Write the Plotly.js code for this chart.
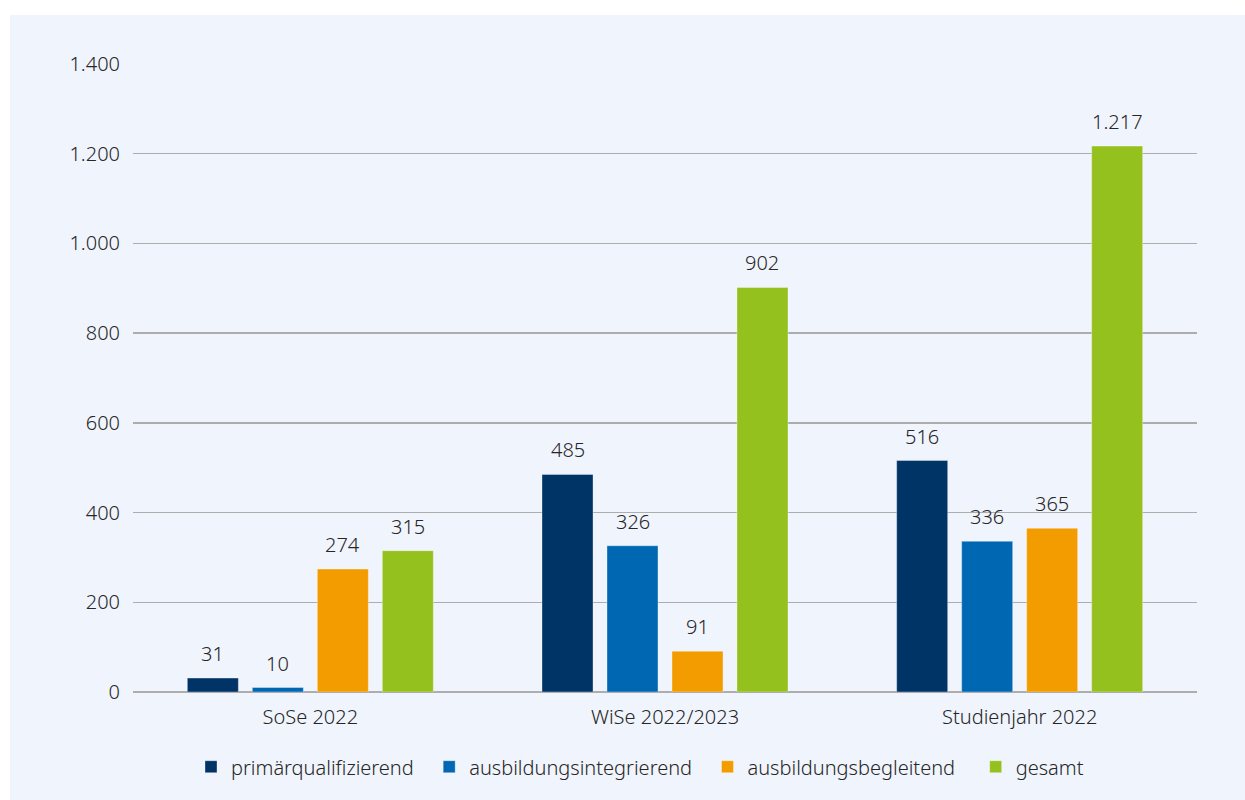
<!DOCTYPE html>
<html>
<head>
<meta charset="utf-8">
<script src="https://cdn.plot.ly/plotly-3.0.1.min.js"></script>
<style>
html,body{margin:0;padding:0;background:#ffffff;}
#chart{width:1245px;height:800px;}
</style>
</head>
<body>
<div id="chart"></div>
<script>
const categories = ["SoSe 2022", "WiSe 2022/2023", "Studienjahr 2022"];
const seriesNames = ["primärqualifizierend", "ausbildungsintegrierend", "ausbildungsbegleitend", "gesamt"];
const primaerqualifizierend = [31, 485, 516];
const ausbildungsintegrierend = [10, 326, 336];
const ausbildungsbegleitend = [274, 91, 365];
const gesamt = [315, 902, 1217];
const seriesValues = [primaerqualifizierend, ausbildungsintegrierend, ausbildungsbegleitend, gesamt];
const seriesColors = ["#003366", "#0068b3", "#f39c00", "#95c11f"];
const yTicks = [0, 200, 400, 600, 800, 1000, 1200, 1400];
const legendPad = [2, 2, 3, 0];

const FONT = "Noto Sans, Open Sans, sans-serif";
const TEXTCOL = "#262626";
const WEIGHT = 350;
const margin = {l: 133, r: 48, t: 64, b: 108};
const W = 1245, H = 800;
const plotW = W - margin.l - margin.r;
const bargap = 0.267;
const slotPx = plotW / categories.length * (1 - bargap) / seriesValues.length;

const fmt = v => v.toLocaleString("de-DE");

const traces = seriesValues.map((vals, i) => ({
  type: "bar",
  name: seriesNames[i] + "\u00a0".repeat(legendPad[i]),
  x: categories,
  y: vals,
  marker: {color: seriesColors[i], line: {color: "rgba(255,255,255,0.35)", width: 1}},
  hoverinfo: "skip"
}));

const annotations = [];
seriesValues.forEach((vals, i) => {
  vals.forEach((v, j) => {
    annotations.push({
      xref: "x", yref: "y",
      x: categories[j], y: v,
      text: fmt(v),
      showarrow: false,
      xanchor: "center", yanchor: "bottom",
      xshift: (i - (seriesValues.length - 1) / 2) * slotPx,
      yshift: 9,
      font: {family: FONT, size: 20, color: TEXTCOL, weight: WEIGHT}
    });
  });
});

const layout = {
  width: W, height: H,
  margin: margin,
  paper_bgcolor: "#ffffff",
  plot_bgcolor: "rgba(0,0,0,0)",
  separators: ",.",
  font: {family: FONT, size: 20, color: TEXTCOL, weight: WEIGHT},
  barmode: "group",
  bargap: bargap,
  bargroupgap: 0.215,
  showlegend: true,
  legend: {
    orientation: "h",
    x: (640 - margin.l) / plotW, xanchor: "center",
    y: -0.119, yanchor: "middle",
    bgcolor: "rgba(0,0,0,0)",
    font: {family: FONT, size: 20, color: TEXTCOL, weight: WEIGHT},
    traceorder: "normal"
  },
  xaxis: {
    type: "category",
    range: [-0.5, 2.5],
    showgrid: false,
    showline: false,
    zeroline: false,
    ticks: "",
    ticklabelstandoff: 11,
    tickfont: {family: FONT, size: 20, color: TEXTCOL, weight: WEIGHT},
    fixedrange: true
  },
  yaxis: {
    range: [0, 1400],
    tickvals: yTicks,
    ticktext: yTicks.map(fmt),
    showgrid: true,
    gridcolor: "#adadad",
    gridwidth: 1.5,
    zeroline: true,
    zerolinecolor: "#adadad",
    zerolinewidth: 1.5,
    showline: false,
    ticks: "",
    ticklabelstandoff: 12,
    tickfont: {family: FONT, size: 20, color: TEXTCOL, weight: WEIGHT},
    fixedrange: true
  },
  shapes: [{
    type: "rect", xref: "paper", yref: "paper", layer: "below",
    x0: (10 - margin.l) / plotW,
    x1: (W - margin.l) / plotW,
    y0: -(H - (H - margin.b)) / (H - margin.t - margin.b),
    y1: ((H - margin.b) - 15) / (H - margin.t - margin.b),
    fillcolor: "#f0f4fc",
    line: {width: 0}
  }],
  annotations: annotations
};

Plotly.newPlot("chart", traces, layout, {displayModeBar: false, staticPlot: true});
</script>
</body>
</html>
